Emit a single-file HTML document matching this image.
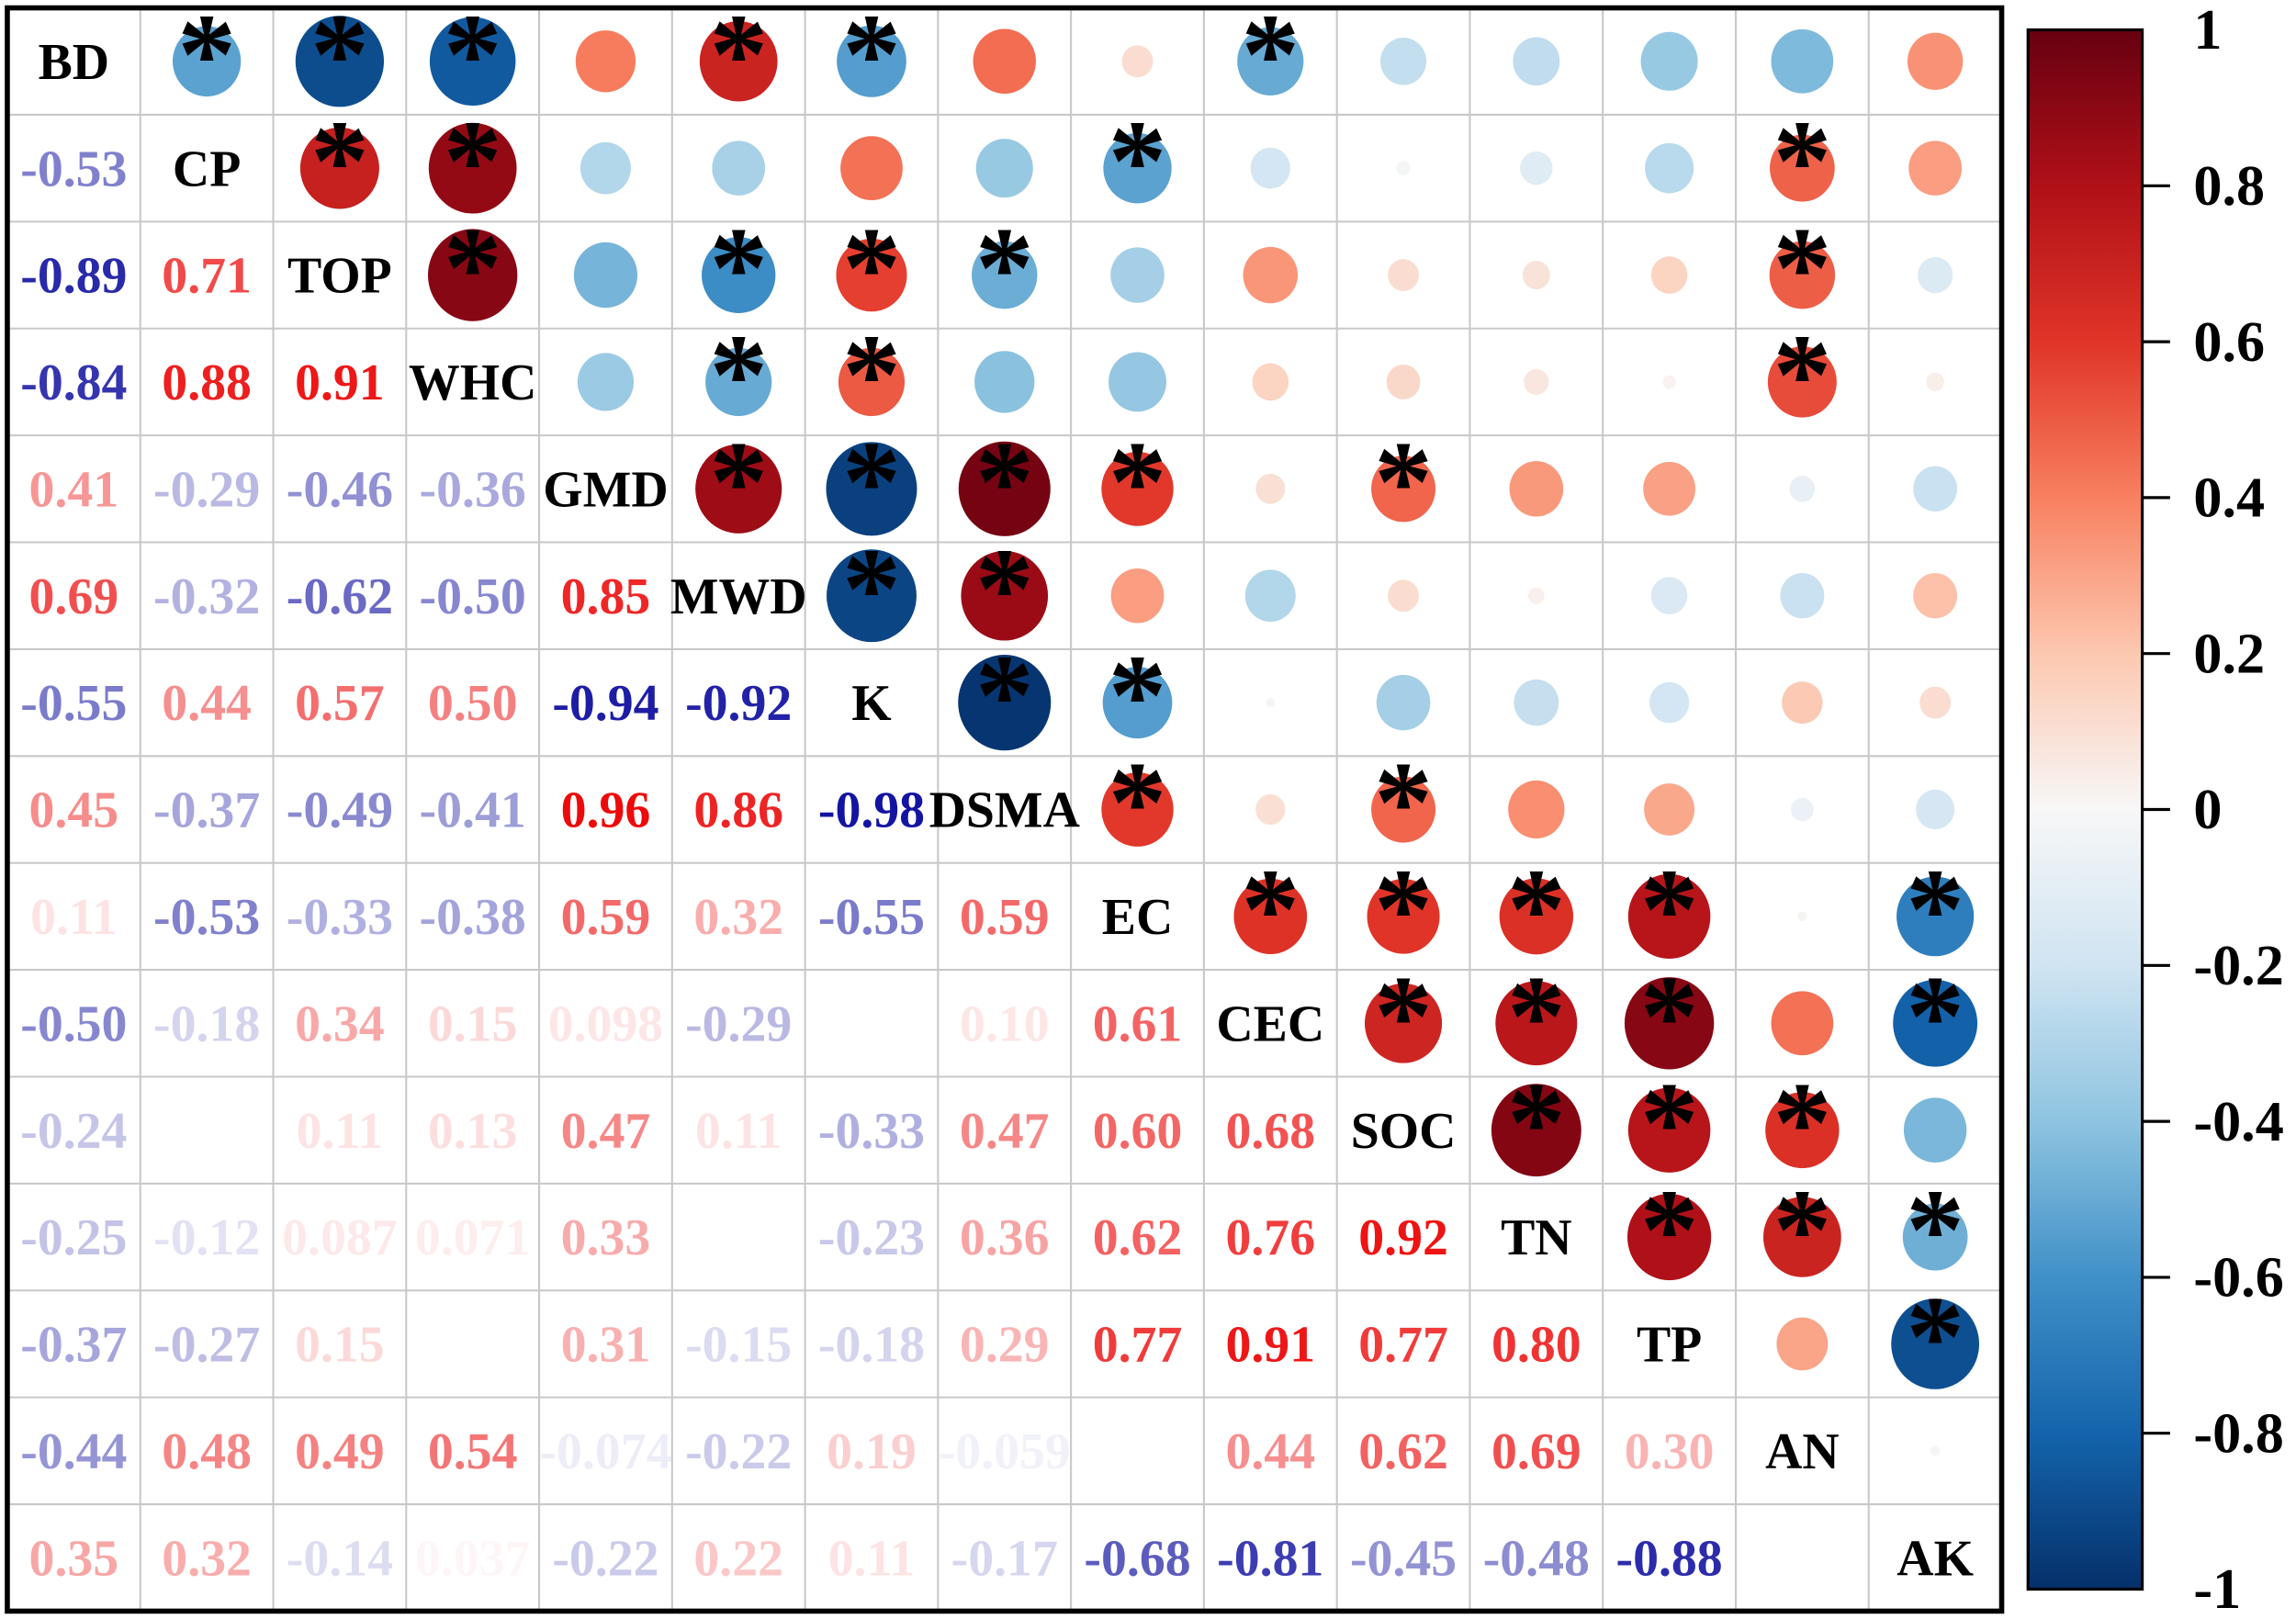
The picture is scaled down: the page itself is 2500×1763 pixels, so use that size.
<!DOCTYPE html>
<html><head><meta charset="utf-8"><style>
html,body{margin:0;padding:0;background:#fff;}
svg{display:block;}
text{font-family:"Liberation Serif",serif;font-weight:bold;}
</style></head><body>
<svg id="s" width="2500" height="1763" viewBox="0 0 1568 1105" xmlns="http://www.w3.org/2000/svg">
<defs>
<linearGradient id="cb" x1="0" y1="1" x2="0" y2="0">
<stop offset="0" stop-color="#05306a"/><stop offset="0.1" stop-color="#1464ac"/><stop offset="0.2" stop-color="#4090c8"/><stop offset="0.3" stop-color="#8ec4e0"/><stop offset="0.4" stop-color="#d0e4f2"/><stop offset="0.5" stop-color="#f7f7f7"/><stop offset="0.6" stop-color="#fcc8b0"/><stop offset="0.7" stop-color="#f88060"/><stop offset="0.8" stop-color="#e03428"/><stop offset="0.9" stop-color="#b01018"/><stop offset="1" stop-color="#670010"/>
</linearGradient>
</defs>
<g id="g"></g>
<rect x="1385" y="20" width="78" height="1065" fill="url(#cb)" stroke="#000" stroke-width="2"/>
<g id="cbt"></g>
<rect x="5" y="5" width="1362" height="1095" fill="none" stroke="#000" stroke-width="3.5"/>
</svg>
<script>
var names=["BD","CP","TOP","WHC","GMD","MWD","K","DSMA","EC","CEC","SOC","TN","TP","AN","AK"];
var L=[[],
["-0.53"],
["-0.89","0.71"],
["-0.84","0.88","0.91"],
["0.41","-0.29","-0.46","-0.36"],
["0.69","-0.32","-0.62","-0.50","0.85"],
["-0.55","0.44","0.57","0.50","-0.94","-0.92"],
["0.45","-0.37","-0.49","-0.41","0.96","0.86","-0.98"],
["0.11","-0.53","-0.33","-0.38","0.59","0.32","-0.55","0.59"],
["-0.50","-0.18","0.34","0.15","0.098","-0.29","0.01","0.10","0.61"],
["-0.24","-0.022","0.11","0.13","0.47","0.11","-0.33","0.47","0.60","0.68"],
["-0.25","-0.12","0.087","0.071","0.33","0.03","-0.23","0.36","0.62","0.76","0.92"],
["-0.37","-0.27","0.15","0.02","0.31","-0.15","-0.18","0.29","0.77","0.91","0.77","0.80"],
["-0.44","0.48","0.49","0.54","-0.074","-0.22","0.19","-0.059","0.01","0.44","0.62","0.69","0.30"],
["0.35","0.32","-0.14","0.037","-0.22","0.22","0.11","-0.17","-0.68","-0.81","-0.45","-0.48","-0.88","0.01"]];
var stops=[[5,48,106],[20,100,172],[64,144,200],[142,196,224],[208,228,242],[247,247,247],[252,200,176],[248,128,96],[224,52,40],[176,16,24],[103,0,16]];
function cmap(v){var t=(v+1)/2*10;var i=Math.min(9,Math.floor(t));var f=t-i;var a=stops[i],b=stops[i+1];
return "rgb("+a.map((x,k)=>Math.round(x+(b[k]-x)*f)).join(",")+")";}
function tcol(v){var a=Math.abs(v);if(a<=0.035)return "#fff";if(v<0){return "rgb("+[Math.round(255-a*240),Math.round(255-a*240),Math.round(255-a*95)].join(",")+")";}
return "rgb("+[Math.round(255-a*20),Math.round(255*(1-a)),Math.round(255*(1-a))].join(",")+")";}
var h="",x0=5,y0=5,cw=1362/15,ch=1095/15;
for(var i=1;i<15;i++){h+='<line x1="'+(x0+i*cw)+'" y1="'+y0+'" x2="'+(x0+i*cw)+'" y2="1100" stroke="#c8c8c8" stroke-width="1.3"/>';
h+='<line x1="'+x0+'" y1="'+(y0+i*ch)+'" x2="1367" y2="'+(y0+i*ch)+'" stroke="#c8c8c8" stroke-width="1.3"/>';}
for(var r=0;r<15;r++)for(var c=0;c<15;c++){var cx=x0+(c+0.5)*cw,cy=y0+(r+0.5)*ch;
if(r==c){h+='<text x="'+cx+'" y="'+(cy+12)+'" font-size="35" text-anchor="middle" fill="#000">'+names[r]+'</text>';}
else if(r>c){var s=L[r][c],v=parseFloat(s);h+='<text x="'+cx+'" y="'+(cy+12)+'" font-size="35" text-anchor="middle" fill="'+tcol(v)+'">'+s+'</text>';}
else{var v=parseFloat(L[c][r]),rad=33*Math.sqrt(Math.abs(v));
h+='<ellipse cx="'+cx+'" cy="'+cy+'" rx="'+(rad*0.97)+'" ry="'+rad+'" fill="'+cmap(v)+'"/>';
if(Math.abs(v)>=0.47)h+='<text x="'+cx+'" y="'+(cy+22)+'" font-size="80" text-anchor="middle" fill="#000">*</text>';}}
document.getElementById("g").innerHTML=h;
var t="";for(var k=0;k<=10;k++){var v=1-k*0.2,y=20+k*106.5;var lab=(Math.abs(v)<1e-9)?"0":(Math.round(v*10)/10).toString();
if(k>0&&k<10)t+='<line x1="1463" y1="'+y+'" x2="1482" y2="'+y+'" stroke="#000" stroke-width="2"/>';
t+='<text x="'+(1498)+'" y="'+(y+13)+'" font-size="39" fill="#000">'+lab+'</text>';}
document.getElementById("cbt").innerHTML=t;
</script>
</body></html>
